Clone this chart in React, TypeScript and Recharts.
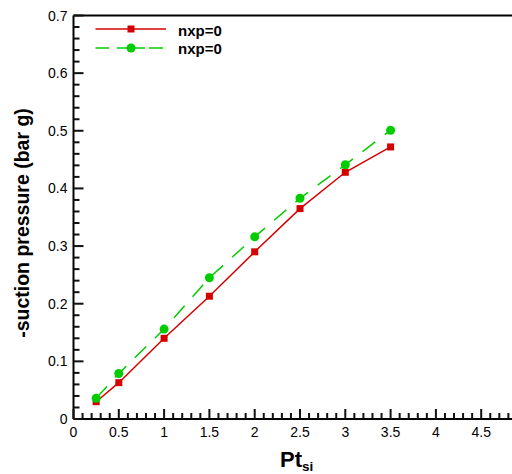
import React from 'react';
import { LineChart, Line, XAxis, YAxis, ReferenceLine, Legend } from 'recharts';

const xValues = [0.25, 0.5, 1, 1.5, 2, 2.5, 3, 3.5];
const redSeries = [0.030, 0.063, 0.140, 0.213, 0.290, 0.365, 0.428, 0.472];
const greenSeries = [0.036, 0.079, 0.156, 0.245, 0.316, 0.383, 0.441, 0.501];
const seriesNames = ['nxp=0', 'nxp=0'];

const xMajorTicks = [0, 0.5, 1, 1.5, 2, 2.5, 3, 3.5, 4, 4.5, 5];
const xTickLabels = ['0', '0.5', '1', '1.5', '2', '2.5', '3', '3.5', '4', '4.5', ''];
const yMajorTicks = [0, 0.1, 0.2, 0.3, 0.4, 0.5, 0.6, 0.7];
const yTickLabels = ['0', '0.1', '0.2', '0.3', '0.4', '0.5', '0.6', '0.7'];

const xAllTicks = Array.from({ length: 51 }, (_, i) => i / 10);
const yAllTicks = Array.from({ length: 36 }, (_, i) => Math.round(i * 2) / 100);

const RED = '#d40000';
const GREEN = '#00cc00';
const TICK = '#111';
const FONT = '"Liberation Sans", Arial, sans-serif';

const data = xValues.map((x, i) => ({ x, red: redSeries[i], green: greenSeries[i] }));

const findIdx = (arr: number[], v: number) => arr.findIndex((t) => Math.abs(t - v) < 1e-6);

const renderXTick = (props: any) => {
  const x = Number(props.x);
  const y = Number(props.y);
  const idx = findIdx(xMajorTicks, props.payload.value);
  const major = idx >= 0;
  const len = major ? 10 : 6;
  return (
    <g>
      <rect x={x - 1} y={y - len} width={2} height={len} fill={TICK} />
      {major && xTickLabels[idx] ? (
        <text x={x} y={y + 17.5} textAnchor="middle" fontFamily={FONT} fontSize={14} fill="#000">
          {xTickLabels[idx]}
        </text>
      ) : null}
    </g>
  );
};

const renderYTick = (props: any) => {
  const x = Number(props.x);
  const y = Number(props.y);
  const idx = findIdx(yMajorTicks, props.payload.value);
  const major = idx >= 0;
  const len = major ? 10 : 6;
  return (
    <g>
      <rect x={x} y={y - 1} width={len} height={2} fill={TICK} />
      {major ? (
        <text x={x - 6} y={y + 5} textAnchor="end" fontFamily={FONT} fontSize={14} fill="#000">
          {yTickLabels[idx]}
        </text>
      ) : null}
    </g>
  );
};

const SquareDot = (props: any) => {
  const { cx, cy, index } = props;
  return <rect key={`sq-${index}`} x={cx - 3.5} y={cy - 3.5} width={7} height={7} fill={RED} />;
};

const LegendContent = () => (
  <svg width={260} height={70} style={{ overflow: 'visible' }}>
    <line x1={95.5} x2={166} y1={29} y2={29} stroke={RED} strokeWidth={1.5} />
    <rect x={127.5} y={25.5} width={7} height={7} fill={RED} />
    <text x={178} y={35.5} fontFamily={FONT} fontWeight="bold" fontSize={15} fill="#000">
      {seriesNames[0]}
    </text>
    <line x1={95.5} x2={109} y1={48} y2={48} stroke={GREEN} strokeWidth={1.5} />
    <line x1={117} x2={145} y1={48} y2={48} stroke={GREEN} strokeWidth={1.5} />
    <line x1={149} x2={163} y1={48} y2={48} stroke={GREEN} strokeWidth={1.5} />
    <circle cx={131} cy={48} r={4.5} fill={GREEN} />
    <text x={178} y={54} fontFamily={FONT} fontWeight="bold" fontSize={15} fill="#000">
      {seriesNames[1]}
    </text>
  </svg>
);

const XLabel = () => (
  <text x={280} y={467} fontFamily={FONT} fontWeight="bold" fontSize={22} fill="#000">
    Pt
    <tspan fontSize={13.5} dy={4}>si</tspan>
  </text>
);

const YLabel = () => (
  <text
    x={29}
    y={223}
    transform="rotate(-90 29 223)"
    textAnchor="middle"
    fontFamily={FONT}
    fontWeight="bold"
    fontSize={19.5}
    fill="#000"
  >
    -suction pressure (bar g)
  </text>
);

export default function App() {
  return (
    <div style={{ position: 'absolute', left: 0, top: 0, width: 512, height: 474, overflow: 'hidden', background: '#fff' }}>
      <LineChart
        width={560}
        height={474}
        data={data}
        margin={{ top: 15.5, right: 33.5, left: 0, bottom: 0 }}
      >
        <XAxis
          dataKey="x"
          type="number"
          domain={[0, 5]}
          ticks={xAllTicks}
          interval={0}
          tickSize={0}
          tickMargin={0}
          tickLine={false}
          tick={renderXTick}
          axisLine={{ stroke: '#000', strokeWidth: 2 }}
          height={55}
          label={<XLabel />}
        />
        <YAxis
          type="number"
          domain={[0, 0.7]}
          ticks={yAllTicks}
          interval={0}
          tickSize={0}
          tickMargin={0}
          tickLine={false}
          tick={renderYTick}
          axisLine={{ stroke: '#000', strokeWidth: 2 }}
          width={73.5}
          label={<YLabel />}
        />
        <ReferenceLine y={0.7} stroke="#000" strokeWidth={2} />
        <ReferenceLine x={5} stroke="#000" strokeWidth={2} />
        <Legend
          layout="horizontal"
          verticalAlign="middle"
          align="center"
          content={<LegendContent />}
          wrapperStyle={{ position: 'absolute', left: 0, top: 0, width: 260, height: 70 }}
        />
        <Line
          dataKey="red"
          name={seriesNames[0]}
          stroke={RED}
          strokeWidth={1.5}
          dot={<SquareDot />}
          activeDot={false}
          isAnimationActive={false}
        />
        <Line
          dataKey="green"
          name={seriesNames[1]}
          stroke={GREEN}
          strokeWidth={1.5}
          strokeDasharray="16 12"
          dot={{ r: 4.5, fill: GREEN, stroke: 'none' }}
          activeDot={false}
          isAnimationActive={false}
        />
      </LineChart>
    </div>
  );
}
